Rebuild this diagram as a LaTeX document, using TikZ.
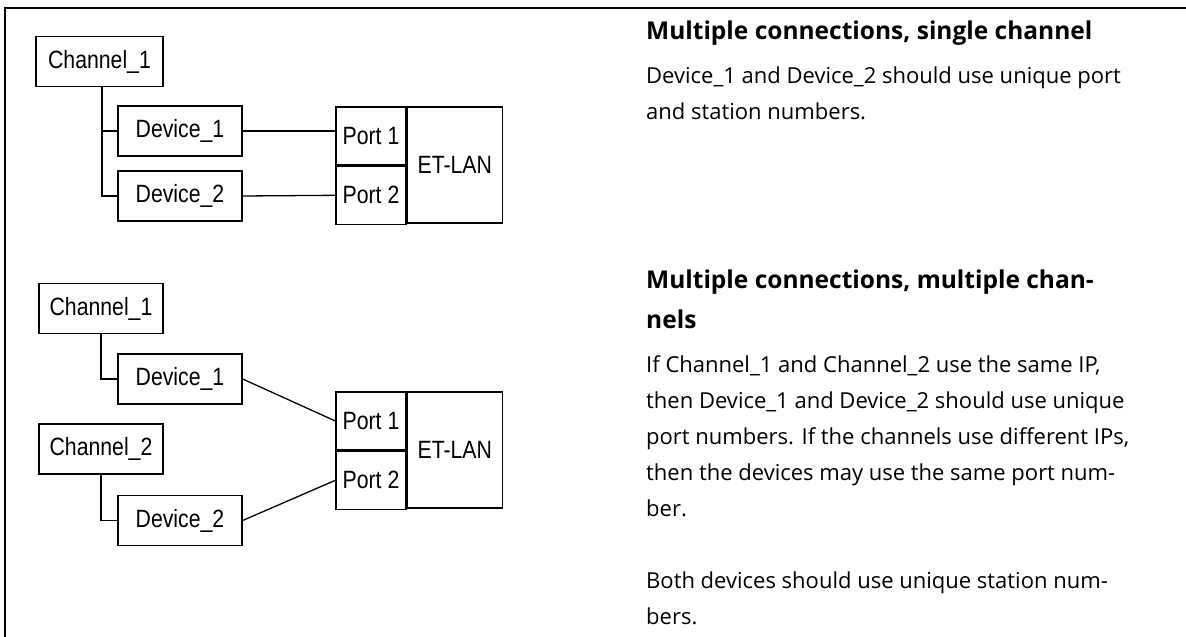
\documentclass[tikz,border=0pt]{standalone}
\usepackage{fontspec}
\setmainfont{Open Sans}
\newfontfamily\boxfont[FakeStretch=0.85]{Liberation Sans}
\usetikzlibrary{positioning}
\tikzset{
  unit/.style={rectangle, draw=black, line width=1.3pt, minimum width=124pt,
    minimum height=50pt, inner sep=0pt, font=\boxfont\fontsize{25}{28}\selectfont},
  port/.style={unit, minimum width=70pt, minimum height=58pt},
  lan/.style={unit, minimum width=95pt, minimum height=116pt},
  wire/.style={line width=1.3pt, draw=black},
  head/.style={anchor=north west, inner sep=0pt, align=left,
    font=\bfseries\fontsize{24.5}{40}\selectfont},
  para/.style={anchor=north west, inner sep=0pt, align=left,
    font=\fontsize{22}{36}\selectfont},
}

\begin{document}
\begin{tikzpicture}[x=1pt, y=-1pt]
    \useasboundingbox (0,0) rectangle (1186,637);
    \draw[line width=2pt] (5,637) -- (5,8) -- (1186,8);

    % single channel
    \node[unit, minimum width=127pt] (chA) at (99.5,61.5) {Channel\_1};
    \node[unit] (devA1) at (180,131) {Device\_1};
    \node[unit] (devA2) at (180,196) {Device\_2};
    \node[port] (portA1) at (371,136) {Port 1};
    \node[port, below=0pt of portA1] (portA2) {Port 2};
    \node[lan, anchor=north west] (lanA) at (portA1.north east) {ET-LAN};

    \draw[wire] ([xshift=2.5pt]chA.south) |- (devA1.west);
    \draw[wire] ([xshift=2.5pt]chA.south) |- (devA2.west);
    \draw[wire] (devA1.east) -- (devA1.east -| portA1.west);
    \draw[wire] (devA2.east) -- (portA2.west);

    % multiple channels
    \node[unit] (chB1) at (101,308.5) {Channel\_1};
    \node[unit] (devB1) at (180,379) {Device\_1};
    \node[unit] (chB2) at (101,449) {Channel\_2};
    \node[unit] (devB2) at (180,520.5) {Device\_2};
    \node[port] (portB1) at (371,421) {Port 1};
    \node[port, below=0pt of portB1] (portB2) {Port 2};
    \node[lan, anchor=north west] (lanB) at (portB1.north east) {ET-LAN};

    \draw[wire] (chB1.south) |- (devB1.west);
    \draw[wire] (chB2.south) |- (devB2.west);
    \draw[wire] (devB1.east) -- (portB1.west);
    \draw[wire] (devB2.east) -- (portB2.west);

    % notes (first baseline = top + strut height)
    \node[head] (headA) at (646,11) {\strut Multiple connections, single channel};
    \node[para] (noteA) at (646,57.8) {\strut Device\_1 and Device\_2 should use unique port\\
      and station numbers.};
    \node[head] (headB) at (646,260) {\strut Multiple connections, multiple chan-\\nels};
    \node[para] (noteB) at (646,346.8) {\strut If Channel\_1 and Channel\_2 use the same IP,\\
      then Device\_1 and Device\_2 should use unique\\
      port numbers. If the channels use different IPs,\\
      then the devices may use the same port num-\\
      ber.\\[36pt]
      Both devices should use unique station num-\\
      bers.};
\end{tikzpicture}
\end{document}
